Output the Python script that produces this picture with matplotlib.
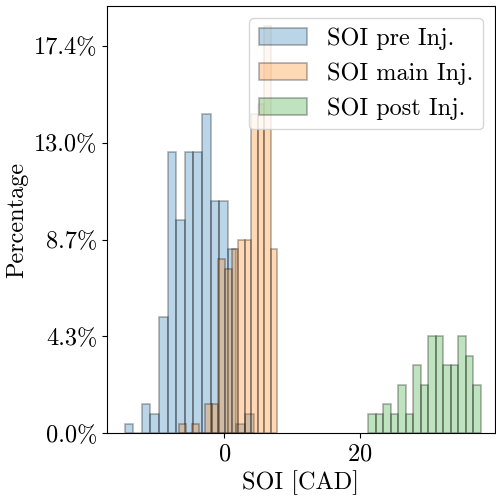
import numpy as np
import matplotlib
matplotlib.use("Agg")
import matplotlib.pyplot as plt
from matplotlib.ticker import PercentFormatter, MultipleLocator

plt.rcParams['font.family'] = 'cmr10'
plt.rcParams['mathtext.fontset'] = 'cm'
plt.rcParams['axes.formatter.use_mathtext'] = True
plt.rcParams['font.size'] = 17.5

# histogram counts (15 bins per series)
labels = ['SOI pre Inj.', 'SOI main Inj.', 'SOI post Inj.']
pre_counts = [1, 0, 3, 2, 12, 29, 22, 29, 29, 33, 24, 24, 19, 1, 2]
main_counts = [1, 0, 1, 0, 3, 3, 18, 17, 19, 20, 20, 33, 34, 42, 19]
post_counts = [2, 2, 3, 2, 5, 2, 7, 5, 10, 10, 7, 7, 10, 8, 5]
pre_range = (-14.7, 4.3)
main_range = (-6.68, 7.83)
post_range = (21.2, 37.8)
n_total = 230

fig = plt.figure(figsize=(4.96, 4.99), dpi=100)
ax = fig.add_axes([107 / 496, (499 - 433.3) / 499, (495 - 107) / 496, (433.3 - 6) / 499])

for counts, rng, lab in zip([pre_counts, main_counts, post_counts],
                            [pre_range, main_range, post_range], labels):
    edges = np.linspace(rng[0], rng[1], len(counts) + 1)
    centers = (edges[:-1] + edges[1:]) / 2
    ax.hist(centers, bins=edges, weights=counts, alpha=0.3,
            edgecolor='k', linewidth=1.2, label=lab)

ax.set_xlim(-17.3, 39.9)
ax.yaxis.set_major_locator(MultipleLocator(10))
ax.yaxis.set_major_formatter(PercentFormatter(xmax=n_total, decimals=1))
ax.xaxis.set_major_locator(MultipleLocator(20))
ax.set_xlabel('SOI [CAD]')
ax.set_ylabel('Percentage')
ax.legend(loc='upper right')

fig.savefig('out.png', dpi=100)
